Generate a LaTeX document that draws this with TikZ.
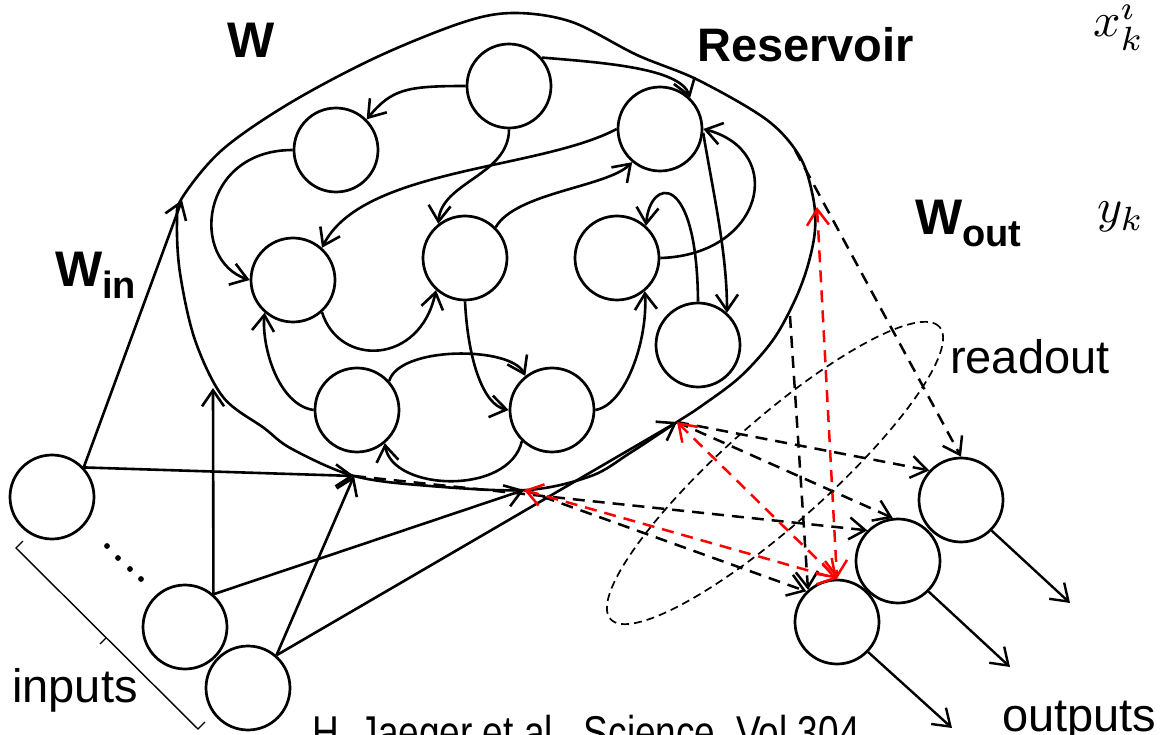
\documentclass[tikz,border=0pt]{standalone}
\usepackage[no-math]{fontspec}
\usepackage{graphicx}
\usetikzlibrary{arrows.meta,shapes.geometric}
\newfontfamily\arialfont{Liberation Sans}

\begin{document}
\begin{tikzpicture}[x=1pt,y=-1pt,
  >={Straight Barb[length=16pt,width=22pt]},
  unit/.style={circle,draw,line width=2.7pt,minimum size=84pt,inner sep=0pt},
  link/.style={line width=2.6pt,->},
  readline/.style={line width=2.5pt,dash pattern=on 12pt off 8pt,->},
  trained/.style={line width=2.5pt,dash pattern=on 12pt off 8pt,red,<->},
  biglbl/.style={font=\arialfont\bfseries\fontsize{50}{50}\selectfont,inner sep=0pt,anchor=base west},
  txtlbl/.style={font=\arialfont\fontsize{47}{47}\selectfont,inner sep=0pt,anchor=base west},
  mathlbl/.style={inner sep=0pt,anchor=base west}]
\useasboundingbox (0,0) rectangle (1163,735);

% reservoir boundary
\draw[line width=2.6pt] plot[smooth cycle,tension=0.55] coordinates {
  (182,198) (222,150) (290,103) (377,57) (464,22) (515,13) (572,22)
  (637,55) (698,80) (767,120) (800,157) (813,197) (815,230) (808,265)
  (795,300) (773,340) (740,377) (700,407) (677,422) (630,453) (591,476)
  (527,490) (430,486) (354,476) (292,449) (264,428) (223,397) (195,340)
  (180,273) (177,222)};

% points on the boundary where connections start or end
\coordinate (Aw)  at (182,200);
\coordinate (Al)  at (213,388);
\coordinate (Ab1) at (354,476);
\coordinate (Ab2) at (524,490);
\coordinate (Ab3) at (677,422);
\coordinate (Ar)  at (817,207);
\coordinate (Ar2) at (790,316);
\coordinate (At)  at (795,150);

% reservoir units
\node[unit] (R1) at (509,86) {};
\node[unit] (R2) at (336,150) {};
\node[unit] (R3) at (660,129) {};
\node[unit] (R4) at (293,280) {};
\node[unit] (R5) at (465,258) {};
\node[unit] (R6) at (617,258) {};
\node[unit] (R7) at (698,345) {};
\node[unit] (R8) at (357,410) {};
\node[unit] (R9) at (552,410) {};

% input and output units
\node[unit] (I1) at (52,497) {};
\node[unit] (I2) at (185,627) {};
\node[unit] (I3) at (248,688) {};
\node[unit] (O1) at (961,500) {};
\node[unit] (O2) at (898,561) {};
\node[unit] (O3) at (837,622) {};

% recurrent connections inside the reservoir
\draw[link] (R1.west) .. controls +(-60,0) and +(25,-30) .. (R2.45);
\draw[link] (R2.west) .. controls +(-93,0) and +(-60,-20) .. (R4.west);
\draw[link] (R1.south) .. controls +(0,46) and +(3,-42) .. (R5.128);
\draw[link] (R3.west) .. controls +(-77,41) and +(40,-80) .. (R4.48);
\draw[link] (R5.45) .. controls +(20,-35) and +(-25,25) .. (R3.230);
\draw[link] (R1.41) .. controls +(60,5) and +(-10,-30) .. (R3.46);
\draw[link] (R6.east) .. controls +(103,-3) and +(84,22) .. (R3.east);
\draw[link] (R3.-5) .. controls +(10,60) and +(0,-60) .. (R7.48);
\draw[link] (R7.north) .. controls +(-1,-132) and +(4,-48) .. (R6.48);
\draw[link] (R8.west) .. controls +(-35,-5) and +(-3,35) .. (R4.229);
\draw[link] (R4.-48) .. controls +(17,55) and +(-16,75) .. (R5.228);
\draw[link] (R5.south) .. controls +(3,60) and +(-25,-5) .. (R9.west);
\draw[link] (R9.east) .. controls +(30,-5) and +(3,50) .. (R6.-50);
\draw[link] (R8.42) .. controls +(10,-35) and +(-15,-30) .. (R9.128);
\draw[link] (R9.226) .. controls +(-13,55) and +(7,48) .. (R8.-50);

% input weights
\draw[link] (I1.43) -- (Aw);
\draw[link] (I1.43) -- (Ab1);
\draw[link] (I2.49) -- (Al);
\draw[link] (I2.49) -- (Ab2);
\draw[link] (I3.49) -- (Ab1);
\draw[link] (I3.49) -- (Ab3);

% readout weights
\draw[readline] (At) -- (O1.north);
\draw[readline] (Ar2) -- (O3.132);
\draw[readline] (Ab3) -- (O1.137);
\draw[readline] (Ab3) -- (O2.97);
\draw[readline] (Ab1) -- (O2.135);
\draw[readline] (Ab2) -- (O3.135);

% trained readout weights
\draw[trained] (Ar) -- (O3.north);
\draw[trained] (Ab3) -- (O3.north);
\draw[trained] (Ab2) -- (O3.north);

% readout ellipse
\node[draw,ellipse,dash pattern=on 8pt off 5pt,line width=1.7pt,
      minimum width=440pt,minimum height=104pt,inner sep=0pt,rotate=41.6] (E) at (775,473) {};

% outputs
\coordinate (q1) at (1070,603);
\coordinate (q2) at (1010,667);
\coordinate (q3) at (952,728);
\draw[link,line width=2.4pt] (O1.-45) -- (q1);
\draw[link,line width=2.4pt] (O2.-45) -- (q2);
\draw[link,line width=2.4pt] (O3.-44) -- (q3);

% elided inputs and brace
\foreach \p in {(107,546),(118,558),(130,569),(141,579)}
  \fill \p circle (2.9pt);
\draw[line width=1.4pt] (23,541) -- (16,548) -- (198,729) -- (205,722);
\draw[line width=1.4pt] (106,638) -- (100,644);

% labels
\node[biglbl] (lW) at (227,58) {W};
\node[txtlbl,font=\arialfont\bfseries\fontsize{47}{47}\selectfont] (lRes) at (697,62) {Reservoir};
\node[biglbl] (lWin) at (55,287) {W\raisebox{-12pt}{\fontsize{38}{38}\selectfont in}};
\node[biglbl] (lWout) at (915,235) {W\raisebox{-12pt}{\fontsize{38}{38}\selectfont out}};
\node[txtlbl] (lread) at (950,374) {readout};
\node[txtlbl] (lin) at (12,702) {inputs};
\node[txtlbl] (lout) at (1002,731) {outputs};
\node[txtlbl,font=\arialfont\fontsize{46}{46}\selectfont] (lcite) at (312,748)
  {\scalebox{0.805}[1]{H. Jaeger et al., Science, Vol 304}};
\node[mathlbl] (lx) at (1093,37) {\scalebox{4.8}{$x^i_k$}};
\node[mathlbl] (ly) at (1097,223) {\scalebox{4.8}{$y_k$}};
\end{tikzpicture}
\end{document}
